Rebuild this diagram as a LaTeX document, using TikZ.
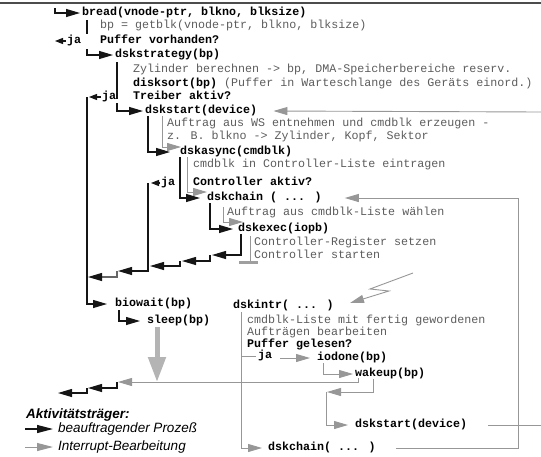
\documentclass[tikz,border=0pt]{standalone}
\usepackage{fontspec}
\usetikzlibrary{arrows.meta}
\newfontfamily\monof{Liberation Mono}
\newfontfamily\sansf{Liberation Sans}
\definecolor{lnblack}{HTML}{151515}
\definecolor{lngray}{HTML}{979797}
\definecolor{txgray}{HTML}{5C5C5C}
\definecolor{biggray}{HTML}{B4B4B4}
\begin{document}
\begin{tikzpicture}[x=1pt,y=-1pt,
  bk/.style={draw=lnblack,line width=1.1pt},
  gr/.style={draw=lngray,line width=0.9pt},
  arr/.style={-{Triangle[length=14pt,width=8pt]}},
  sarr/.style={-{Triangle[length=8pt,width=6pt]}},
  code/.style={anchor=west,inner sep=0pt,text height=7pt,text depth=2pt,
    font=\monof\fontsize{11.67}{14}\selectfont\bfseries,text=black},
  note/.style={anchor=west,inner sep=0pt,text height=7pt,text depth=2pt,
    font=\monof\fontsize{11.67}{14}\selectfont,text=txgray},
  leg/.style={anchor=west,inner sep=0pt,text height=9pt,text depth=3pt,
    font=\sansf\fontsize{13.5}{16}\selectfont\itshape}
]
\useasboundingbox (0,0) rectangle (541,456);

% ---------- texts ----------
\node[code] (bread) at (82,13) {bread(vnode-ptr, blkno, blksize)};
\node[note] (getblk) at (100,26) {bp = getblk(vnode-ptr, blkno, blksize)};
\node[code] (ja1) at (67,41) {ja};
\node[code] (pvh) at (100,41) {Puffer vorhanden?};
\node[code] (strat) at (115,55) {dskstrategy(bp)};
\node[note] (zyl) at (133,70) {Zylinder berechnen -> bp, DMA-Speicherbereiche reserv.};
\node[note] (dsort) at (133,84) {{\bfseries\color{black}disksort(bp)} (Puffer in Warteschlange des Geräts einord.)};
\node[code] (ja2) at (102,97) {ja};
\node[code] (tra) at (133,97) {Treiber aktiv?};
\node[code] (start1) at (145,111) {dskstart(device)};
\node[note] (ws1) at (167,124) {Auftrag aus WS entnehmen und cmdblk erzeugen -};
\node[note] (ws2) at (167,137) {z. B. blkno -> Zylinder, Kopf, Sektor};
\node[code] (async) at (180,152) {dskasync(cmdblk)};
\node[note] (cmdl) at (193,165) {cmdblk in Controller-Liste eintragen};
\node[code] (ja3) at (161,183) {ja};
\node[code] (cak) at (193,183) {Controller aktiv?};
\node[code] (chain1) at (207,198) {dskchain ( ... )};
\node[note] (wahl) at (227,213) {Auftrag aus cmdblk-Liste wählen};
\node[code] (exec) at (238,229) {dskexec(iopb)};
\node[note] (creg) at (254,243) {Controller-Register setzen};
\node[note] (cst) at (254,256) {Controller starten};
\node[code] (biow) at (115,304) {biowait(bp)};
\node[code] (sleep) at (147,321) {sleep(bp)};
\node[code] (intr) at (233,306) {dskintr( ... )};
\node[note] (fert1) at (247,321) {cmdblk-Liste mit fertig gewordenen};
\node[note] (fert2) at (247,333) {Aufträgen bearbeiten};
\node[code] (pgel) at (247,345) {Puffer gelesen?};
\node[code] (ja4) at (258,356) {ja};
\node[code] (iod) at (317,358) {iodone(bp)};
\node[code] (wake) at (355,374) {wakeup(bp)};
\node[code] (start2) at (355,425) {dskstart(device)};
\node[code] (chain2) at (268,448) {dskchain( ... )};

\node[leg,font=\sansf\fontsize{13.5}{16}\selectfont\bfseries\itshape] (lt) at (26,415) {Aktivitätsträger:};
\node[leg] (l1) at (58,429) {beauftragender Prozeß};
\node[leg] (l2) at (58,447) {Interrupt-Bearbeitung};
\coordinate (l1s) at (25,429);
\coordinate (l2s) at (25,447);

% ---------- top rule ----------
\coordinate (tl) at (0,3);
\coordinate (tr) at (541,3);
\draw[draw=black!70,line width=1.3pt] (tl) -- (tr);

% ---------- calling process (black) ----------
\draw[bk,arr] (55,8) |- ([xshift=-2pt]bread.west);
\draw[bk] (87,20) -- (87,34);
\draw[bk,sarr] ([xshift=-1pt]ja1.west) -- ++(-11,0);
\draw[bk,arr] (87,49) |- ([xshift=-2pt]strat.west);
\draw[bk] (117,62) -- (117,99);
\draw[bk,sarr] ([xshift=-1pt]ja2.west) -- (89,97);
\draw[bk,arr] (87,97) |- ([xshift=-8pt]biow.west);
\draw[bk,arr] (117,103) |- ([xshift=-2pt]start1.west);
\draw[bk,arr] (148,116) |- ([xshift=-10pt]async.west);
\draw[gr,arr] (162,116) |- ([xshift=1pt,yshift=5pt]async.west);
\draw[bk,arr] (180,157) |- ([xshift=-7pt]chain1.west);
\draw[gr,arr] (187,157) |- ([yshift=6pt]chain1.west);
\draw[bk,sarr] ([xshift=-1pt]ja3.west) -- (151,183);
\draw[bk,arr] (148,183) |- (118,271);
\draw[bk,arr] (210,203) |- ([xshift=-5pt]exec.west);
\draw[gr,arr] (223,207) |- ([xshift=5pt,yshift=7pt]exec.west);
\draw[bk,arr] (241,234) |- (212,255);
\draw[bk,arr] (210,255) |- (182,261);
\draw[bk,arr] (180,261) |- (150,266);
\draw[draw=black!60,line width=1.1pt,-{Triangle[length=14pt,width=8pt,color=lnblack]}] (117,271) |- (88,277);
\draw[draw=lngray,line width=1pt] (250,236) -- (250,262);
\draw[draw=gray!75,line width=3pt] (239,262) -- (258,262);
\draw[bk,arr] (119,310) |- ([xshift=-7pt]sleep.west);
\draw[draw=biggray,line width=5pt,-{Triangle[length=25pt,width=17pt]}] (157,327) -- (157,382);

% ---------- interrupt handling (gray) ----------
\draw[gr,arr] (541,112) -- ([xshift=16pt]start1.east);
\draw[gr,arr] ([xshift=20pt]chain2.east) -| (518,198) -- ([xshift=23pt]chain1.east);
\draw[gr] ([xshift=21pt]start2.east) -- (541,425);
\draw[gr,arr] (413,273) -- (370,289) -- (389,291) -- (350,303);
\draw[gr,arr] (241,312) |- ([xshift=-6pt]chain2.west);
\draw[gr] (241,356) -- ([xshift=-2pt]ja4.west);
\draw[gr,arr] ([xshift=-37pt]iod.west) -- ([xshift=-7pt]iod.west);
\draw[gr,arr] (323,363) |- ([xshift=-2pt]wake.west);
\draw[gr,arr] (358,378) |- (118,382);
\draw[bk,arr] (117,382) |- (88,388);
\draw[bk,arr] (87,388) |- (58,393);
\draw[gr,arr] (373,379) |- (327,392);
\draw[gr,arr] (326,392) |- ([xshift=-7pt]start2.west);

% ---------- legend ----------
\draw[bk,-{Triangle[length=16pt,width=8pt]}] (l1s) -- ([xshift=-5pt]l1.west);
\draw[gr,line width=1pt,-{Triangle[length=16pt,width=8pt]}] (l2s) -- ([xshift=-5pt]l2.west);
\end{tikzpicture}
\end{document}
